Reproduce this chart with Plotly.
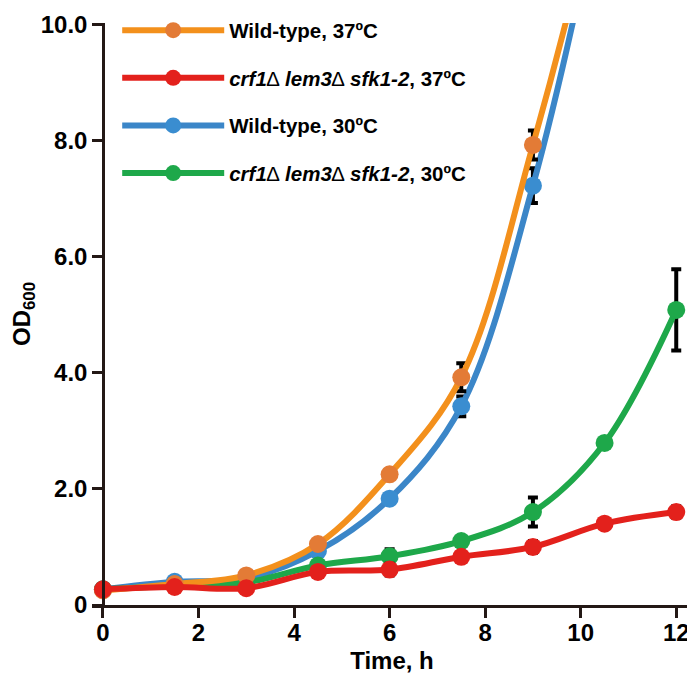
import plotly.graph_objects as go

time_h = [0, 1.5, 3, 4.5, 6, 7.5, 9, 10.5, 12]

wt37 = [0.25, 0.36, 0.51, 1.05, 2.25, 3.92, 7.92, 12.8, 19.0]
wt37_err = [0.03, 0.03, 0.04, 0.08, 0.08, 0.24, 0.25, 0.3, 0.3]
mut37 = [0.27, 0.31, 0.29, 0.57, 0.61, 0.83, 1.00, 1.40, 1.60]
mut37_err = [0.03, 0.03, 0.03, 0.05, 0.10, 0.05, 0.10, 0.05, 0.10]
wt30 = [0.27, 0.40, 0.46, 0.93, 1.83, 3.42, 7.22, 12.6, 19.5]
wt30_err = [0.03, 0.03, 0.04, 0.08, 0.08, 0.17, 0.30, 0.3, 0.3]
mut30 = [0.27, 0.33, 0.39, 0.68, 0.84, 1.10, 1.60, 2.79, 5.08]
mut30_err = [0.03, 0.03, 0.03, 0.05, 0.12, 0.06, 0.25, 0.05, 0.70]

FONT = "Liberation Sans, Arial, sans-serif"
DELTA = "<span style='font-weight:normal'>∆</span>"
mut_name = "<i>crf1</i>" + DELTA + " <i>lem3</i>" + DELTA + " <i>sfk1-2</i>"

series = [
    # (name, y, err, line color, marker color, rank)
    ("Wild-type, 30ºC", wt30, wt30_err, "#3b86c8", "#3a8dd0", 3),
    (mut_name + ", 30ºC", mut30, mut30_err, "#1ea84a", "#1ea84a", 4),
    ("Wild-type, 37ºC", wt37, wt37_err, "#f3901c", "#e37b36", 1),
    (mut_name + ", 37ºC", mut37, mut37_err, "#e3211c", "#e3211c", 2),
]

fig = go.Figure()
for i, (name, y, err, lc, mc, rank) in enumerate(series):
    fig.add_trace(go.Scatter(
        x=time_h, y=y, name=name, mode="lines+markers",
        line=dict(color=lc, width=6, shape="spline", smoothing=1.0),
        marker=dict(color=mc, size=18),
        error_y=dict(type="data", array=err, color="black", thickness=4, width=5),
        legendrank=rank, legendgroup=str(i),
    ))

x0, x1 = -0.23, 12.33
AX = "#231815"
fig.update_layout(
    width=687, height=671,
    margin=dict(l=84, r=3, t=14, b=74),
    plot_bgcolor="white", paper_bgcolor="white",
    font=dict(family=FONT, color="black"),
    showlegend=True,
    legend=dict(
        x=0.042, y=1.02, xanchor="left", yanchor="top",
        bgcolor="rgba(0,0,0,0)", itemwidth=102, tracegroupgap=18,
        font=dict(size=20.5, family=FONT, weight="bold"),
    ),
    xaxis=dict(
        range=[x0, x1], showgrid=False, zeroline=False, automargin=False,
        showline=True, linecolor=AX, linewidth=2.5,
        tickmode="array", tickvals=[0, 2, 4, 6, 8, 10, 12],
        ticks="outside", ticklen=10, tickwidth=2.5, tickcolor=AX,
        ticklabelstandoff=-6,
        tickfont=dict(size=24, family=FONT, weight="bold"),
        title=dict(text="Time, h", font=dict(size=24, family=FONT, weight="bold"), standoff=8),
    ),
    yaxis=dict(
        range=[0, 10.02], showgrid=False, zeroline=False, automargin=False,
        anchor="free", position=(0 - x0) / (x1 - x0),
        showline=True, linecolor=AX, linewidth=2.5,
        tickmode="array", tickvals=[0, 2, 4, 6, 8, 10],
        ticktext=["0", "2.0", "4.0", "6.0", "8.0", "10.0"],
        ticks="outside", ticklen=10, tickwidth=2.5, tickcolor=AX,
        tickfont=dict(size=24, family=FONT, weight="bold"),
        title=dict(text="OD<sub>600</sub>", font=dict(size=24, family=FONT, weight="bold"), standoff=4),
    ),
)

fig.write_html("out.html")
